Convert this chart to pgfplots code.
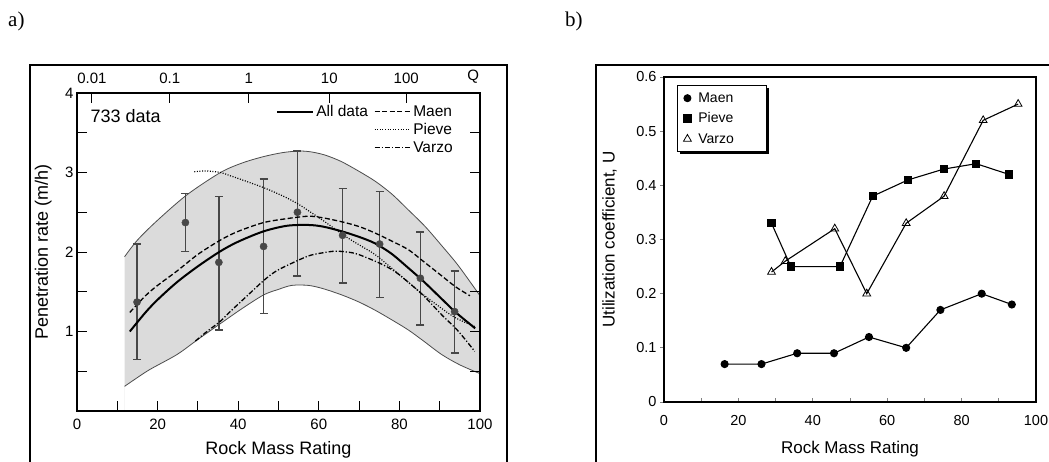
\documentclass[border=0pt]{standalone}
\usepackage{fontspec}
\setmainfont{Liberation Sans}
\newfontfamily\seriffont{Liberation Serif}
\usepackage{pgfplots}
\usepackage{pgfplotstable}
\pgfplotsset{compat=1.18}
\usetikzlibrary{shadows}

\pgfplotstableread{
x y ep em
14.9 1.37 0.73 0.72
26.9 2.37 0.37 0.36
35.2 1.87 0.83 0.85
46.3 2.07 0.85 0.84
54.7 2.50 0.77 0.80
65.9 2.21 0.59 0.60
75.1 2.10 0.66 0.67
85.2 1.67 0.58 0.59
93.7 1.25 0.51 0.52
}\errdata

\begin{document}
\begin{tikzpicture}
\draw[line width=2pt] (30pt,-20pt) rectangle (507pt,396pt);
\draw[line width=2pt] (596pt,-20pt) rectangle (1070pt,396pt);
\node[anchor=base west, inner sep=0pt, font=\seriffont\fontsize{21}{23}\selectfont] at (8pt,434pt) {a)};
\node[anchor=base west, inner sep=0pt, font=\seriffont\fontsize{21}{23}\selectfont] at (565pt,434pt) {b)};

% ---------------- panel a ----------------
\begin{axis}[
  at={(77pt,50pt)}, anchor=south west, scale only axis,
  width=403pt, height=318pt,
  xmin=0, xmax=100, ymin=0, ymax=4,
  axis on top,
  axis line style={line width=1.4pt},
  tick align=inside, major tick length=10pt, minor tick length=10pt,
  every tick/.style={line width=1pt, black},
  xtick={0,20,40,60,80,100}, minor xtick={10,30,50,70,90},
  ytick={1,2,3,4}, minor ytick={0.5,1.5,2.5,3.5},
  xtick pos=left, ytick pos=both, yticklabel pos=left,
  tick label style={font=\fontsize{15}{17}\selectfont},
  xticklabel style={yshift=-4pt},
  /pgf/number format/assume math mode=true,
  xlabel={Rock Mass Rating}, ylabel={Penetration rate (m/h)},
  label style={font=\fontsize{18}{20}\selectfont},
  xlabel style={at={(axis description cs:0.5,-0.137)}, anchor=base},
  ylabel style={at={(axis description cs:-0.072,0.5)}, anchor=base},
  legend columns=2,
  legend cell align=left,
  legend style={draw=none, fill=none, at={(0.945,0.975)}, anchor=north east,
    font=\fontsize{15.5}{17}\selectfont, row sep=1.5pt,
    /tikz/every even column/.append style={column sep=4pt}},
  legend image code/.code={\draw[#1] (0pt,0pt) -- (36pt,0pt);},
]
% band: area under upper curve (grey) minus area under lower curve (white)
\addplot[smooth, fill=black!14, draw=none, forget plot] coordinates {
(11.8,1.94) (15,2.15) (20,2.40) (27.3,2.72) (35.6,3.00) (41,3.12) (46.3,3.20) (51,3.25) (55,3.27) (58,3.26) (61.5,3.22) (65.5,3.14) (69.8,3.02) (74,2.89) (78.1,2.73) (82,2.54) (86.4,2.32) (90.5,2.08) (94.6,1.83) (100,1.45)} \closedcycle;
\addplot[smooth, fill=white, draw=none, forget plot] coordinates {
(11.8,0.31) (14.1,0.39) (18,0.52) (24.8,0.71) (30,0.90) (35.6,1.10) (41,1.29) (46.3,1.46) (50,1.53) (53.3,1.58) (57.4,1.58) (61,1.54) (65.7,1.46) (70,1.37) (73.9,1.27) (78,1.15) (82.2,1.02) (86,0.88) (90.5,0.71) (95,0.58) (100,0.47)} \closedcycle;
\addplot[smooth, draw=black!70, line width=0.8pt, forget plot] coordinates {
(11.8,1.94) (15,2.15) (20,2.40) (27.3,2.72) (35.6,3.00) (41,3.12) (46.3,3.20) (51,3.25) (55,3.27) (58,3.26) (61.5,3.22) (65.5,3.14) (69.8,3.02) (74,2.89) (78.1,2.73) (82,2.54) (86.4,2.32) (90.5,2.08) (94.6,1.83) (100,1.45)};
\addplot[smooth, draw=black!70, line width=0.8pt, forget plot] coordinates {
(11.8,0.31) (14.1,0.39) (18,0.52) (24.8,0.71) (30,0.90) (35.6,1.10) (41,1.29) (46.3,1.46) (50,1.53) (53.3,1.58) (57.4,1.58) (61,1.54) (65.7,1.46) (70,1.37) (73.9,1.27) (78,1.15) (82.2,1.02) (86,0.88) (90.5,0.71) (95,0.58) (100,0.47)};

\addplot[only marks, mark=*, mark size=3.6pt, color=black!72, forget plot,
  error bars/.cd, y dir=both, y explicit,
  error bar style={line width=1.3pt, black!72},
  error mark options={line width=1.3pt, black!72, mark size=4pt, rotate=90}]
  table[x=x, y=y, y error plus=ep, y error minus=em] {\errdata};

% All data
\addplot[smooth, black, line width=2pt, forget plot] coordinates {
(13.1,1.00) (17,1.24) (20,1.40) (24.8,1.62) (30,1.82) (35.6,2.01) (40,2.13) (46.3,2.26) (52.1,2.33) (57.4,2.34) (61,2.32) (65.7,2.26) (70,2.19) (73.9,2.11) (78,1.98) (82.2,1.80) (86,1.63) (90.5,1.41) (94,1.24) (98.8,1.04)};
% Maen
\addplot[smooth, black, line width=1.3pt, dash pattern=on 5pt off 2.5pt, forget plot] coordinates {
(13.1,1.24) (17,1.45) (20,1.58) (24.8,1.76) (30,1.97) (35.6,2.15) (40,2.26) (46.3,2.37) (52.1,2.42) (57.4,2.45) (61,2.43) (65.7,2.38) (70,2.32) (73.9,2.24) (78,2.14) (82.2,2.03) (86,1.88) (90.5,1.70) (94,1.56) (97.5,1.45)};
% Pieve
\addplot[smooth, black, line width=1.2pt, dash pattern=on 1pt off 1.6pt, forget plot] coordinates {
(29.1,3.01) (32,3.02) (35.6,3.00) (38,2.96) (41.4,2.90) (46.3,2.81) (49.1,2.75) (52.1,2.68) (55.3,2.59) (58,2.50) (61.5,2.38) (66.5,2.20) (70,2.09) (73.9,1.97) (78,1.80) (82.2,1.62) (86,1.46) (90.5,1.29) (94,1.17) (98.8,1.06)};
% Varzo
\addplot[smooth, black, line width=1.3pt, dash pattern=on 5pt off 2pt on 1.2pt off 2pt, forget plot] coordinates {
(29.4,0.88) (32,0.99) (35.6,1.13) (38,1.25) (41.4,1.41) (46.3,1.64) (49.1,1.75) (52.1,1.83) (57.4,1.95) (61,1.99) (64,2.01) (67,2.00) (69.8,1.97) (75.5,1.85) (79,1.75) (82.2,1.62) (86,1.45) (90.5,1.21) (94.5,1.01) (98.7,0.75)};

\addlegendimage{black, line width=2pt}\addlegendentry{All data}
\addlegendimage{black, line width=1.3pt, dash pattern=on 5pt off 2.5pt}\addlegendentry{Maen}
\addlegendimage{empty legend}\addlegendentry{}
\addlegendimage{black, line width=1.2pt, dash pattern=on 1pt off 1.6pt}\addlegendentry{Pieve}
\addlegendimage{empty legend}\addlegendentry{}
\addlegendimage{black, line width=1.3pt, dash pattern=on 5pt off 2pt on 1.2pt off 2pt}\addlegendentry{Varzo}

\node[anchor=west, font=\fontsize{18}{20}\selectfont] at (axis cs:2.5,3.71) {733 data};
\end{axis}

% top Q axis
\begin{axis}[
  at={(77pt,50pt)}, anchor=south west, scale only axis,
  width=403pt, height=318pt,
  xmin=0, xmax=100, ymin=0, ymax=4,
  axis line style={line width=1.4pt},
  tick align=inside, major tick length=10pt,
  every tick/.style={line width=1pt, black},
  xtick pos=right, xticklabel pos=right, ytick=\empty,
  xtick={3.7,23,42.6,62.6,81.7},
  xticklabels={0.01,0.1,1,10,100},
  extra x ticks={98.3}, extra x tick labels={Q},
  extra x tick style={major tick length=0pt},
  tick label style={font=\fontsize{15}{17}\selectfont},
  xticklabel style={yshift=6pt},
]
\addplot[draw=none, forget plot] coordinates {(0,0) (100,4)};
\end{axis}

% ---------------- panel b ----------------
\begin{axis}[
  at={(664pt,59pt)}, anchor=south west, scale only axis,
  width=372pt, height=325pt,
  xmin=0, xmax=100, ymin=0, ymax=0.6,
  axis line style={line width=1.3pt},
  xtick={0,20,40,60,80,100}, minor xtick={10,30,50,70,90},
  ytick={0,0.1,0.2,0.3,0.4,0.5,0.6},
  xtick pos=left, ytick pos=left,
  x tick style={line width=0.8pt},
  y tick style={line width=0.8pt},
  xtick align=inside, ytick align=outside,
  major tick length=4pt, minor tick length=4pt,
  tick label style={font=\fontsize{14.5}{16}\selectfont},
  xticklabel style={yshift=-10pt},
  yticklabel style={/pgf/number format/.cd, fixed, precision=1},
  /pgf/number format/assume math mode=true,
  xlabel={Rock Mass Rating}, ylabel={Utilization coefficient, U},
  label style={font=\fontsize{17}{19}\selectfont},
  xlabel style={at={(axis description cs:0.5,-0.157)}, anchor=base},
  ylabel style={at={(axis description cs:-0.133,0.5)}, anchor=base},
  legend cell align=left,
  legend style={at={(0.035,0.975)}, anchor=north west, draw=black, line width=1pt,
    fill=white, font=\fontsize{14}{16}\selectfont, row sep=5pt,
    inner xsep=6pt, inner ysep=5pt,
    /tikz/every odd column/.append style={column sep=5pt},
    drop shadow={shadow xshift=2.5pt, shadow yshift=-2.5pt, fill=black, opacity=1}},
]
\addlegendimage{only marks, mark=*, mark size=3.5pt, black}\addlegendentry{Maen\hspace*{25pt}}
\addlegendimage{only marks, mark=square*, mark size=3.6pt, black}\addlegendentry{Pieve\hspace*{25pt}}
\addlegendimage{only marks, mark=triangle, mark size=4.5pt, black, mark options={fill=white, line width=0.8pt}}\addlegendentry{Varzo\hspace*{25pt}}

\addplot[black, line width=1.1pt, mark=*, mark size=3.5pt, forget plot] coordinates {
(16.3,0.07) (26.2,0.07) (35.8,0.09) (45.7,0.09) (55.1,0.12) (65.1,0.10) (74.3,0.17) (85.4,0.20) (93.5,0.18)};
\addplot[black, line width=1.1pt, mark=square*, mark size=3.6pt, forget plot] coordinates {
(28.9,0.33) (34.1,0.25) (47.3,0.25) (56.1,0.38) (65.6,0.41) (75.2,0.43) (83.9,0.44) (92.8,0.42)};
\addplot[black, line width=1.1pt, mark=triangle, mark size=4.5pt, mark options={fill=white, line width=0.8pt}, forget plot] coordinates {
(28.9,0.24) (32.6,0.26) (45.9,0.32) (54.5,0.20) (65.1,0.33) (75.3,0.38) (85.8,0.52) (95.2,0.55)};
\end{axis}
\pgfresetboundingbox
\useasboundingbox (0pt,0pt) rectangle (1049pt,461pt);
\end{tikzpicture}
\end{document}
